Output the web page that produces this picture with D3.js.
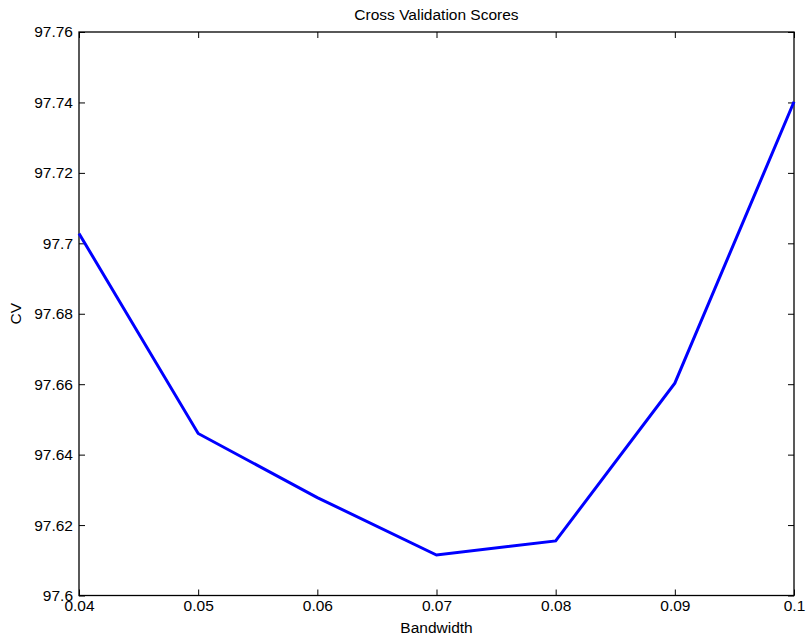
<!DOCTYPE html>
<meta charset="utf-8">
<title>Cross Validation Scores</title>
<style>
body { margin: 0; background: #fff; }
svg text { font-family: "Liberation Sans", Arial, Helvetica, sans-serif; fill: #000; }
</style>
<svg id="chart"></svg>
<script src="https://cdn.jsdelivr.net/npm/d3@7"></script>
<script>
// bandwidth values and their cross validation scores
var bandwidth = [0.04, 0.05, 0.06, 0.07, 0.08, 0.09, 0.1];
var cvScores = [97.7028, 97.646, 97.6278, 97.6115, 97.6155, 97.6603, 97.7402];
var xTicks = [0.04, 0.05, 0.06, 0.07, 0.08, 0.09, 0.1];
var yTicks = [97.6, 97.62, 97.64, 97.66, 97.68, 97.7, 97.72, 97.74, 97.76];

var width = 806, height = 641;
// plot box edges (window.top is taken, so use other names)
var plotLeft = 79, plotRight = 794, plotTop = 32, plotBottom = 595.5;

var svg = d3.select('#chart')
	.attr('width', width)
	.attr('height', height);

var x = d3.scaleLinear().domain([0.04, 0.1]).range([plotLeft, plotRight]);
var y = d3.scaleLinear().domain([97.6, 97.76]).range([plotBottom, plotTop]);

var fontSize = 15.5;

// ticks point inward, MATLAB style
function styleAxis(g) {
	g.select('.domain').remove();
	g.selectAll('.tick line').attr('stroke', '#000').attr('stroke-width', 1);
	g.selectAll('.tick text').attr('font-size', fontSize).attr('fill', '#000');
}

svg.append('g')
	.attr('transform', 'translate(0,' + plotBottom + ')')
	.call(d3.axisBottom(x).tickValues(xTicks).tickFormat(d3.format('')).tickSizeInner(-6).tickPadding(4))
	.call(styleAxis);

svg.append('g')
	.attr('transform', 'translate(0,' + plotTop + ')')
	.call(d3.axisTop(x).tickValues(xTicks).tickSizeInner(-6).tickFormat(''))
	.call(styleAxis);

svg.append('g')
	.attr('transform', 'translate(' + plotLeft + ',0)')
	.call(d3.axisLeft(y).tickValues(yTicks).tickFormat(d3.format('')).tickSizeInner(-6).tickPadding(6))
	.call(styleAxis);

svg.append('g')
	.attr('transform', 'translate(' + plotRight + ',0)')
	.call(d3.axisRight(y).tickValues(yTicks).tickSizeInner(-6).tickFormat(''))
	.call(styleAxis);

// box
svg.append('rect')
	.attr('x', plotLeft)
	.attr('y', plotTop)
	.attr('width', plotRight - plotLeft)
	.attr('height', plotBottom - plotTop)
	.attr('fill', 'none')
	.attr('stroke', '#000')
	.attr('stroke-width', 1.3);

var line = d3.line()
	.x(function(d, i) { return x(bandwidth[i]); })
	.y(function(d) { return y(d); });

svg.append('path')
	.datum(cvScores)
	.attr('d', line)
	.attr('fill', 'none')
	.attr('stroke', '#0000ff')
	.attr('stroke-width', 3)
	.attr('stroke-linejoin', 'miter');

svg.append('text')
	.attr('x', (plotLeft + plotRight) / 2)
	.attr('y', 19.5)
	.attr('text-anchor', 'middle')
	.attr('font-size', fontSize)
	.text('Cross Validation Scores');

svg.append('text')
	.attr('x', (plotLeft + plotRight) / 2)
	.attr('y', 633)
	.attr('text-anchor', 'middle')
	.attr('font-size', fontSize)
	.text('Bandwidth');

svg.append('text')
	.attr('transform', 'translate(21,' + (plotTop + plotBottom) / 2 + ') rotate(-90)')
	.attr('text-anchor', 'middle')
	.attr('font-size', fontSize)
	.text('CV');
</script>
